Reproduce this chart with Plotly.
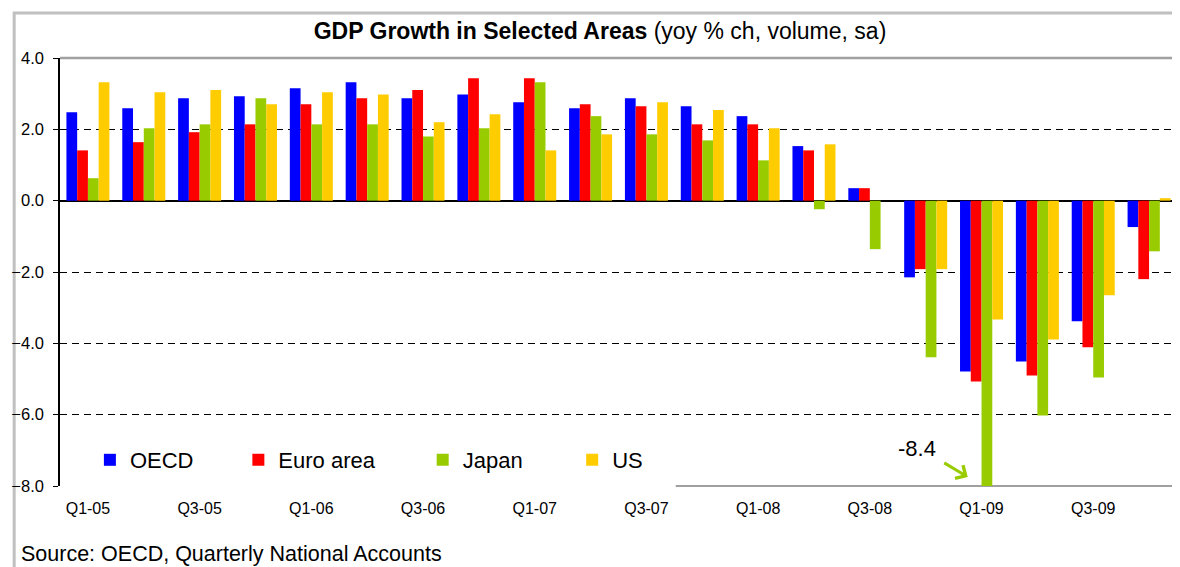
import plotly.graph_objects as go

quarters = ["Q1-05", "Q2-05", "Q3-05", "Q4-05", "Q1-06", "Q2-06", "Q3-06", "Q4-06",
            "Q1-07", "Q2-07", "Q3-07", "Q4-07", "Q1-08", "Q2-08", "Q3-08", "Q4-08",
            "Q1-09", "Q2-09", "Q3-09", "Q4-09"]
tick_labels = ["Q1-05", "Q3-05", "Q1-06", "Q3-06", "Q1-07", "Q3-07", "Q1-08", "Q3-08", "Q1-09", "Q3-09"]

oecd = [2.48, 2.59, 2.87, 2.93, 3.15, 3.32, 2.87, 2.98, 2.76, 2.59,
        2.87, 2.65, 2.37, 1.53, 0.35, -2.15, -4.79, -4.51, -3.38, -0.74]
euro_area = [1.41, 1.64, 1.92, 2.14, 2.70, 2.87, 3.10, 3.43, 3.43, 2.70,
             2.65, 2.14, 2.14, 1.41, 0.35, -1.92, -5.07, -4.90, -4.11, -2.20]
japan = [0.63, 2.03, 2.14, 2.87, 2.14, 2.14, 1.80, 2.03, 3.32, 2.37,
         1.86, 1.69, 1.13, -0.24, -1.36, -4.39, -8.4, -6.02, -4.96, -1.42]
us = [3.32, 3.04, 3.10, 2.70, 3.04, 2.98, 2.20, 2.42, 1.41, 1.86,
      2.76, 2.54, 2.03, 1.58, None, -1.92, -3.33, -3.89, -2.65, 0.07]

series = [("OECD", oecd, "#0000FF"), ("Euro area", euro_area, "#FF0000"),
          ("Japan", japan, "#99CC00"), ("US", us, "#FFCC00")]

# page body has an 8px margin: the figure is drawn from (8, 8) of the window
OFF = 8
WIN_W, WIN_H = 1180, 567
W, H = WIN_W - OFF, WIN_H - OFF
# plot area in window pixels: x 56..1177, y 58..486
PL, PR, PT, PB = 56, 1177, 58, 486
L, R, T, B = PL - OFF, W - (PR - OFF), PT - OFF, H - (PB - OFF)
pw, ph = PR - PL, PB - PT


def px_x(x):
    return (x - PL) / pw


def px_y(y):
    return (PB - y) / ph


FONT = "Liberation Sans, Arial, sans-serif"
ymin, ymax = -8, 4

fig = go.Figure()
legend_names = ["legend", "legend2", "legend3", "legend4"]
for (name, vals, col), lg in zip(series, legend_names):
    fig.add_trace(go.Bar(x=quarters, y=vals, name=name, marker=dict(color=col, line=dict(width=0)),
                         legend=lg))

legend_px = [106, 255, 440, 590]
legends = {}
for lg, cx in zip(legend_names, legend_px):
    legends[lg] = dict(x=px_x(cx - 20), y=px_y(460), xanchor="left", yanchor="middle",
                       orientation="h", bgcolor="rgba(0,0,0,0)", borderwidth=0,
                       font=dict(family=FONT, size=22, color="black"), itemclick=False)

zero_pos = (0 - ymin) / (ymax - ymin)
n = len(quarters)

fig.update_layout(
    width=W, height=H,
    margin=dict(l=L, r=R, t=T, b=B),
    paper_bgcolor="white", plot_bgcolor="white",
    barmode="group", bargap=0.23, bargroupgap=0,
    font=dict(family=FONT, color="black"),
    title=dict(text="<b>GDP Growth in Selected Areas</b> (yoy % ch, volume, sa)",
               x=(600 - OFF) / W, xanchor="center", y=1 - (31 - OFF) / H, yanchor="middle",
               yref="container",
               font=dict(family=FONT, size=23, color="black")),
    showlegend=True,
    xaxis=dict(type="category", categoryorder="array", categoryarray=quarters,
               range=[-0.5, n - 0.5], tickmode="array", tickvals=tick_labels, ticktext=tick_labels,
               ticks="outside", ticklen=8, tickcolor="rgba(0,0,0,0)",
               showline=False, showgrid=False, zeroline=False,
               tickfont=dict(family=FONT, size=16, color="black")),
    xaxis2=dict(overlaying="x", anchor="free", position=zero_pos, range=[-0.5, n - 0.5],
                tickmode="linear", tick0=-0.5, dtick=1, ticks="outside", ticklen=4, tickwidth=1.2,
                tickcolor="black", showticklabels=False, showgrid=False, zeroline=False, showline=False),
    xaxis3=dict(overlaying="x", anchor="free", position=zero_pos, side="top", range=[-0.5, n - 0.5],
                tickmode="linear", tick0=-0.5, dtick=1, ticks="outside", ticklen=4, tickwidth=1.2,
                tickcolor="black", showticklabels=False, showgrid=False, zeroline=False, showline=False),
    yaxis=dict(range=[ymin, ymax], tickmode="linear", tick0=ymin, dtick=2, tickformat=".1f",
               ticks="outside", ticklen=5, tickcolor="black", tickwidth=1.2,
               showline=True, linecolor="black", linewidth=1.5,
               showgrid=True, gridcolor="black", gridwidth=1, griddash="7px,5px",
               zeroline=True, zerolinecolor="black", zerolinewidth=1.5,
               ticklabelstandoff=6,
               tickfont=dict(family=FONT, size=16.5, color="black")),
    **legends,
)

# frames
fig.add_shape(type="rect", xref="paper", yref="paper",
              x0=px_x(10), x1=px_x(1200), y0=px_y(600), y1=px_y(13),
              line=dict(color="#C0C0C0", width=3), fillcolor="rgba(0,0,0,0)", layer="below")
fig.add_shape(type="line", xref="paper", yref="paper", x0=0, x1=1, y0=1, y1=1,
              line=dict(color="#A0A0A0", width=2.5), layer="between")
fig.add_shape(type="line", xref="paper", yref="paper", x0=1, x1=1, y0=0, y1=1,
              line=dict(color="#A0A0A0", width=2), layer="between")
fig.add_shape(type="line", xref="paper", yref="paper", x0=px_x(674), x1=1, y0=0, y1=0,
              line=dict(color="#A0A0A0", width=2), layer="between")

fig.add_annotation(text="-8.4", xref="paper", yref="paper", x=px_x(916), y=px_y(448),
                   xanchor="center", yanchor="middle", showarrow=False,
                   font=dict(family=FONT, size=22, color="black"))
fig.add_annotation(text="", xref="paper", yref="paper", x=px_x(967), y=px_y(477),
                   ax=-25, ay=-15, showarrow=True, arrowhead=4, arrowsize=1, arrowwidth=3,
                   arrowcolor="#99CC00")
fig.add_annotation(text="Source: OECD, Quarterly National Accounts", xref="paper", yref="paper",
                   x=px_x(15), y=px_y(554), xanchor="left", yanchor="middle", showarrow=False,
                   font=dict(family=FONT, size=21.5, color="black"))

fig.write_html("out.html")
